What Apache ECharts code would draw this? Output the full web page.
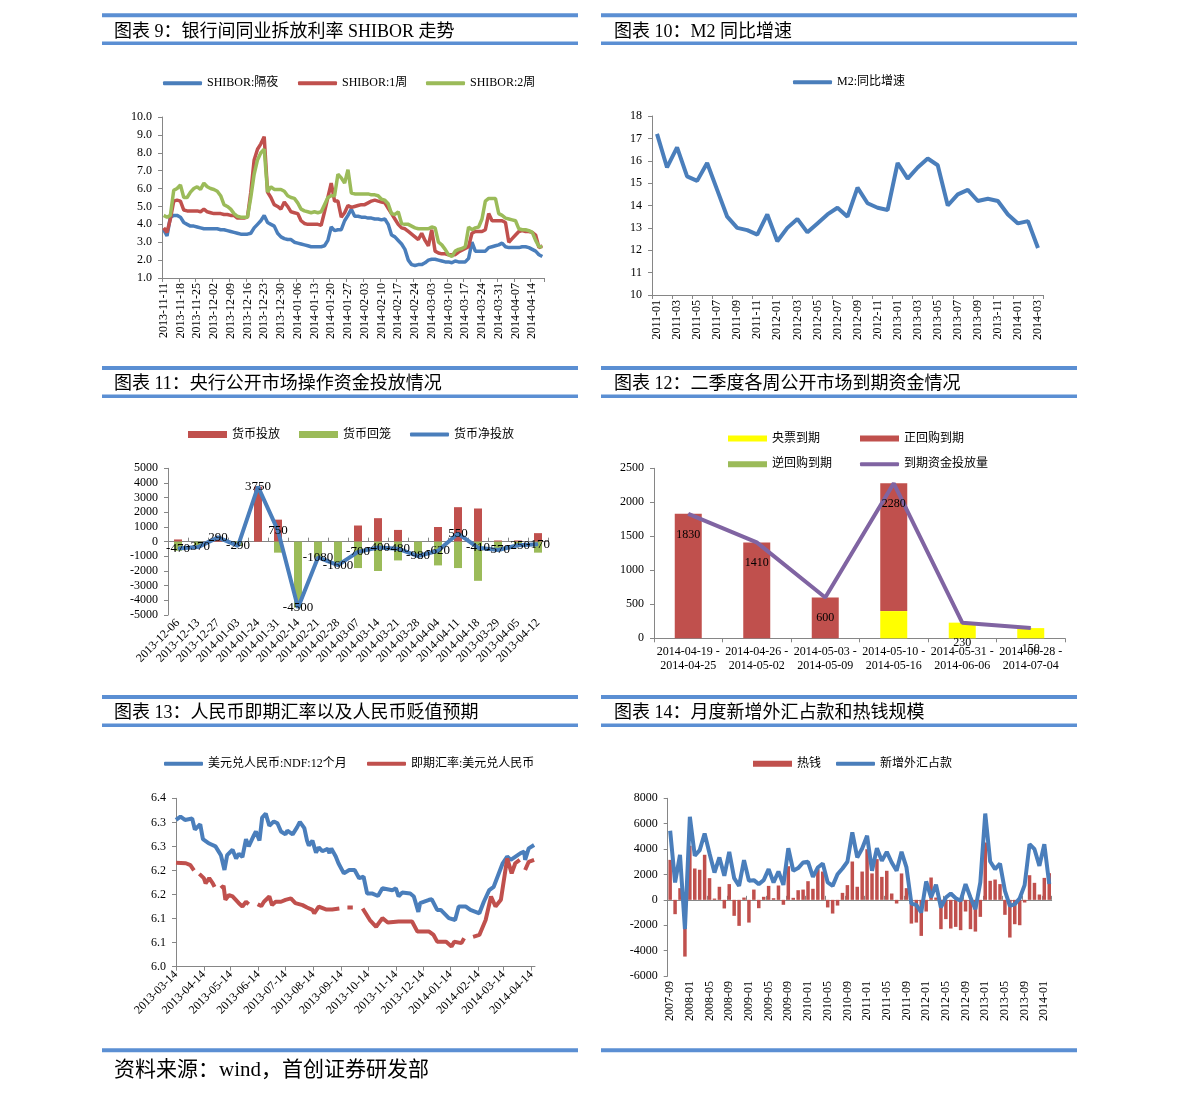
<!DOCTYPE html>
<html><head><meta charset="utf-8">
<script src="https://cdn.jsdelivr.net/npm/echarts/dist/echarts.min.js"></script>
<style>html,body{margin:0;padding:0;background:#fff}#c{width:1191px;height:1098px}</style>
</head><body><div id="c"></div>
<script>
// ---------- DATA ----------
// Panel 1: SHIBOR (weekdays from 2013-11-11)
const SHIBOR_START = '2013-11-11';
const SHIBOR_ON = [
3.7,3.35,4.4,4.5,4.5, 4.4,4.1,4.0,3.9,3.9, 3.85,3.8,3.75,3.75,3.75, 3.75,3.75,3.7,3.7,3.65,
3.6,3.55,3.5,3.45,3.45, 3.45,3.5,3.8,4.0,4.2, 4.5,4.1,4.0,3.9,3.5, 3.3,3.2,3.15,3.15,3.0,
2.95,2.9,2.85,2.8,2.75, 2.75,2.75,2.75,2.8,3.1, 3.85,3.65,3.7,3.7,4.2, 4.5,4.85,4.45,4.45,4.4,
4.4,4.35,4.35,4.3,4.3, 4.25,4.3,4.0,3.4,3.3, 3.1,2.9,2.6,2.0,1.75, 1.7,1.75,1.75,1.85,2.0,
2.05,2.05,2.0,1.95,1.9, 1.9,1.85,1.95,1.9,1.9, 1.9,2.1,3.0,2.5,2.5, 2.5,2.5,2.7,2.75,2.8,
2.85,2.95,2.75,2.7,2.7, 2.7,2.7,2.75,2.75,2.7, 2.6,2.5,2.3,2.2];
const SHIBOR_1W = [
3.8,3.55,4.3,5.3,5.35, 5.3,4.8,4.75,4.75,4.75, 4.75,4.7,4.85,4.7,4.65, 4.6,4.6,4.6,4.55,4.55,
4.5,4.5,4.35,4.35,4.35, 4.4,5.8,7.6,8.2,8.5, 8.9,5.8,5.5,5.1,5.0, 4.85,5.25,5.0,4.7,4.65,
4.6,4.2,4.05,4.0,4.0, 4.0,4.0,3.95,4.7,5.5, 6.3,5.3,5.3,4.4,4.65, 5.05,4.95,5.0,5.05,5.1,
5.1,5.2,5.3,5.35,5.3, 5.25,5.2,4.9,4.6,4.3, 4.0,3.8,3.75,3.6,3.45, 3.3,3.15,3.5,3.1,2.8,
3.7,2.5,2.4,2.35,2.35, 2.3,2.3,2.3,2.45,2.55, 2.65,2.75,3.5,3.6,3.6, 3.6,3.7,4.6,4.2,4.2,
4.2,4.2,4.1,3.0,3.2, 3.4,3.6,3.65,3.6,3.6, 3.55,3.4,2.7,2.8];
const SHIBOR_2W = [
4.5,4.4,4.5,5.9,6.0, 6.2,5.5,5.5,5.8,6.0, 6.1,5.95,6.3,6.1,6.0, 5.95,5.85,5.6,5.1,5.0,
4.85,4.6,4.45,4.4,4.4, 4.4,5.5,6.8,7.6,8.0, 8.2,5.8,6.1,5.95,5.95, 5.95,5.85,5.6,5.5,5.45,
5.2,4.85,4.75,4.7,4.65, 4.7,4.65,4.7,5.1,5.5, 5.6,5.6,6.8,6.6,6.3, 7.05,5.75,5.7,5.7,5.7,
5.7,5.7,5.65,5.65,5.6, 5.4,5.35,5.15,4.6,4.55, 4.7,4.05,4.0,4.0,3.9, 3.8,3.75,3.75,3.75,3.75,
3.85,3.8,3.0,2.85,2.6, 2.3,2.2,2.5,2.6,2.65, 2.75,3.85,3.7,3.8,3.85, 4.3,5.3,5.45,5.45,5.45,
4.6,4.5,4.35,4.3,4.25, 4.2,3.75,3.7,3.7,3.65, 3.55,3.1,2.75,2.75];

// Panel 2: M2 yoy (monthly from 2011-01)
const M2_START = [2011, 1];
const M2 = [17.2,15.7,16.6,15.3,15.1,15.9,14.7,13.5,13.0,12.9,12.7,13.6,
12.4,13.0,13.4,12.8,13.2,13.6,13.9,13.5,14.8,14.1,13.9,13.8,
15.9,15.2,15.7,16.1,15.8,14.0,14.5,14.7,14.2,14.3,14.2,13.6,
13.2,13.3,12.1];

// Panel 3: open market operations
const OMO_CATS = ['2013-12-06','2013-12-13','2013-12-27','2014-01-03','2014-01-24','2014-01-31','2014-02-14','2014-02-21','2014-02-28','2014-03-07','2014-03-14','2014-03-21','2014-03-28','2014-04-04','2014-04-11','2014-04-18','2013-03-29','2013-04-05','2013-04-12'];
const OMO_IN  = [150,0,290,0,3750,1500,0,0,0,1100,1600,800,0,1000,2350,2260,80,80,580];
const OMO_OUT = [-620,-370,0,-290,0,-750,-4500,-1080,-1600,-1800,-2000,-1280,-980,-1620,-1800,-2670,-650,-330,-750];
const OMO_NET = [-470,-370,290,-290,3750,750,-4500,-1080,-1600,-700,-400,-480,-980,-620,550,-410,-570,-250,-170];

// Panel 4: maturities in Q2
const MAT_CATS = ['2014-04-19 -\n2014-04-25','2014-04-26 -\n2014-05-02','2014-05-03 -\n2014-05-09','2014-05-10 -\n2014-05-16','2014-05-31 -\n2014-06-06','2014-06-28 -\n2014-07-04'];
const MAT_CBILL = [0,0,0,400,230,150];
const MAT_REPO  = [1830,1410,600,1880,0,0];
const MAT_RREPO = [0,0,0,0,0,0];
const MAT_TOTAL = [1830,1410,600,2280,230,150];

// Panel 5: USD/CNY
const FX_START = '2013-03-14', FX_END = '2014-04-18';
const FX_YTICKS = ['6.0','6.1','6.1','6.2','6.2','6.3','6.3','6.4'];
const NDF = [['2013-03-14',6.305],['2013-03-19',6.312],['2013-03-24',6.305],['2013-04-01',6.308],['2013-04-04',6.285],['2013-04-10',6.296],['2013-04-13',6.265],['2013-04-20',6.256],['2013-04-27',6.25],['2013-05-03',6.232],['2013-05-07',6.201],['2013-05-10',6.232],['2013-05-16',6.243],['2013-05-20',6.225],['2013-05-23',6.235],['2013-05-27',6.228],['2013-05-31',6.265],['2013-06-03',6.25],['2013-06-09',6.274],['2013-06-11',6.281],['2013-06-15',6.262],['2013-06-18',6.31],['2013-06-22',6.318],['2013-06-26',6.293],['2013-07-01',6.302],['2013-07-05',6.298],['2013-07-09',6.281],['2013-07-14',6.275],['2013-07-16',6.283],['2013-07-22',6.275],['2013-07-27',6.29],['2013-07-30',6.301],['2013-08-04',6.288],['2013-08-07',6.262],['2013-08-09',6.252],['2013-08-13',6.262],['2013-08-17',6.237],['2013-08-20',6.248],['2013-08-24',6.24],['2013-08-30',6.245],['2013-09-01',6.236],['2013-09-03',6.246],['2013-09-08',6.229],['2013-09-11',6.215],['2013-09-17',6.194],['2013-09-23',6.201],['2013-09-29',6.201],['2013-10-04',6.184],['2013-10-09',6.187],['2013-10-13',6.152],['2013-10-19',6.152],['2013-10-25',6.147],['2013-10-30',6.163],['2013-11-10',6.159],['2013-11-14',6.163],['2013-11-17',6.146],['2013-11-21',6.154],['2013-11-30',6.152],['2013-12-04',6.146],['2013-12-09',6.114],['2013-12-11',6.132],['2013-12-21',6.139],['2013-12-24',6.14],['2013-12-30',6.118],['2014-01-03',6.118],['2014-01-12',6.101],['2014-01-19',6.097],['2014-01-23',6.125],['2014-01-31',6.125],['2014-02-05',6.118],['2014-02-15',6.111],['2014-02-20',6.135],['2014-02-26',6.159],['2014-03-03',6.166],['2014-03-13',6.215],['2014-03-18',6.229],['2014-03-22',6.222],['2014-04-02',6.236],['2014-04-06',6.239],['2014-04-07',6.222],['2014-04-11',6.246],['2014-04-17',6.253]];
const SPOT = [['2013-03-14',6.216],['2013-03-25',6.215],['2013-03-30',6.211],['2013-04-03',6.2],['2013-04-05','-'],['2013-04-09',6.193],['2013-04-14',6.184],['2013-04-16',6.173],['2013-04-20',6.184],['2013-04-24',6.173],['2013-04-26',6.166],['2013-04-29','-'],['2013-05-03',6.163],['2013-05-06',6.168],['2013-05-08',6.139],['2013-05-12',6.149],['2013-05-16',6.146],['2013-05-23',6.132],['2013-05-27',6.125],['2013-05-31',6.135],['2013-06-03',6.13],['2013-06-08','-'],['2013-06-13',6.13],['2013-06-17',6.126],['2013-06-20',6.135],['2013-06-26',6.146],['2013-06-29',6.128],['2013-07-03',6.135],['2013-07-09',6.135],['2013-07-14',6.139],['2013-07-20',6.142],['2013-07-25',6.132],['2013-08-02',6.128],['2013-08-07',6.123],['2013-08-13',6.118],['2013-08-15',6.111],['2013-08-20',6.125],['2013-08-28',6.119],['2013-09-04',6.119],['2013-09-12',6.121],['2013-09-19','-'],['2013-09-21',6.123],['2013-09-27',6.123],['2013-10-01','-'],['2013-10-08',6.121],['2013-10-16',6.097],['2013-10-23',6.083],['2013-10-30',6.101],['2013-11-05',6.092],['2013-11-17',6.094],['2013-12-02',6.094],['2013-12-08',6.073],['2013-12-21',6.073],['2013-12-26',6.066],['2013-12-30',6.052],['2014-01-09',6.052],['2014-01-15',6.042],['2014-01-18',6.052],['2014-01-26',6.049],['2014-01-29',6.059],['2014-02-02','-'],['2014-02-08',6.062],['2014-02-15',6.066],['2014-02-22',6.097],['2014-02-28',6.146],['2014-03-05',6.125],['2014-03-11',6.139],['2014-03-18',6.225],['2014-03-23',6.194],['2014-03-27',6.215],['2014-04-01',6.222],['2014-04-04','-'],['2014-04-07',6.201],['2014-04-11',6.218],['2014-04-17',6.222]];

// Panel 6: hot money & FX purchases (monthly from 2007-09)
const FXP_START = [2007, 9];
const HOT = [3150,-1130,920,-4470,4260,2470,2370,3550,1710,100,
1030,-680,1240,-1260,-2050,180,-1790,810,-660,240,
1100,130,1130,-390,2650,160,760,810,1470,870,
2420,2230,-600,-1080,-450,550,1160,3020,1030,2230,
3990,2080,3210,1810,2290,500,-290,2080,920,-1870,
-1790,-2840,-920,1760,180,-2310,-1520,-2260,-2130,-2390,
-920,-2310,-2500,-1340,4520,1500,1600,1240,-1180,-2970,
-1920,-2000,-210,1940,1340,420,1730,2100];
const FXP = [5440,1370,3550,-2310,6540,3470,3920,5230,3650,2150,
3340,1890,3780,1710,1100,3130,1500,1550,1240,1550,
2420,1370,2230,1180,4070,2290,2500,2940,3000,1810,
2550,2860,1370,1100,2020,2470,3000,5310,3340,4050,
5050,2290,4070,3070,3780,2940,2290,3780,2550,-300,
-400,-1000,1450,200,1200,-600,180,500,130,-80,
1240,180,-740,1370,6800,3020,2420,2860,710,-470,
-340,130,1160,4390,3990,2680,4390,1240];

// ---------- HELPERS ----------
function pad(n){return n<10?'0'+n:''+n;}
function fmt(d){return d.getUTCFullYear()+'-'+pad(d.getUTCMonth()+1)+'-'+pad(d.getUTCDate());}
function weekdays(start,n){const o=[];let d=new Date(start+'T00:00:00Z');while(o.length<n){const w=d.getUTCDay();if(w!==0&&w!==6)o.push(fmt(d));d=new Date(d.getTime()+86400000);}return o;}
function calDays(s,e){const o=[];let d=new Date(s+'T00:00:00Z');const end=new Date(e+'T00:00:00Z');while(d<=end){o.push(fmt(d));d=new Date(d.getTime()+86400000);}return o;}
function months(ym,n){const o=[];let y=ym[0],m=ym[1];for(let i=0;i<n;i++){o.push(y+'-'+pad(m));m++;if(m>12){m=1;y++;}}return o;}

const CAT1 = weekdays(SHIBOR_START, SHIBOR_ON.length);
const CAT2 = months(M2_START, M2.length);
const CAT5 = calDays(FX_START, FX_END);
const CAT6 = months(FXP_START, HOT.length);

const FONT = "'Liberation Serif','Noto Sans CJK SC',serif";
const CBLUE='#4A7EBB', CRED='#C0504D', CGREEN='#9BBB59', CPURPLE='#8064A2', CYELLOW='#FFFF00';
const AXC='#868686';
const AXL={show:true,lineStyle:{color:AXC,width:1}};
const TK={show:true,length:4,lineStyle:{color:AXC}};
const LBL={color:'#000',fontFamily:FONT,fontSize:12};
const plain=function(v){return String(v);};

function yAx(g,min,max,iv,fmtFn){return {gridIndex:g,type:'value',min:min,max:max,interval:iv,axisLine:AXL,axisTick:TK,splitLine:{show:false},axisLabel:Object.assign({},LBL,{margin:10,formatter:fmtFn||plain})};}
function lg(name,left,cy,kind){const line=kind==='line';const h=line?4:(kind==='rect7'?7:6);
 return {left:left,top:cy-9.5,itemWidth:39,itemHeight:h,icon:line?'roundRect':'rect',data:[name],selectedMode:false,itemGap:0,textStyle:{fontFamily:FONT,fontSize:12,color:'#000'}};}
const HDR='#5B8FD3';
function bar(x,y,w,h){return {type:'rect',shape:{x:x,y:y,width:w,height:h},style:{fill:HDR},silent:true};}
function ttl(x,y,t,fs){return {type:'text',x:x,y:y,style:{text:t,fill:'#000',font:fs+'px '+FONT,verticalAlign:'middle',textVerticalAlign:'middle'},silent:true};}
function line(name,x,y,data,color,w,extra){return Object.assign({type:'line',name:name,xAxisIndex:x,yAxisIndex:y,data:data,symbol:'none',lineStyle:{color:color,width:w},itemStyle:{color:color},connectNulls:false},extra||{});}

const graphic=[
 bar(102,13.3,476,4),bar(601,13.3,476,4),bar(102,41.5,476,3.5),bar(601,41.5,476,3.5),
 bar(102,366,476,4),bar(601,366,476,4),bar(102,394.5,476,3.5),bar(601,394.5,476,3.5),
 bar(102,695,476,4),bar(601,695,476,4),bar(102,723.5,476,3.5),bar(601,723.5,476,3.5),
 bar(102,1048.3,476,4),bar(601,1048.3,476,4),
 ttl(114,32,'图表 9：银行间同业拆放利率 SHIBOR 走势',18),
 ttl(614,32,'图表 10：M2 同比增速',18),
 ttl(114,384.5,'图表 11：央行公开市场操作资金投放情况',18),
 ttl(614,384.5,'图表 12：二季度各周公开市场到期资金情况',18),
 ttl(114,713,'图表 13：人民币即期汇率以及人民币贬值预期',18),
 ttl(614,713,'图表 14：月度新增外汇占款和热钱规模',18),
 ttl(114,1070,'资料来源：wind，首创证券研发部',21)
];

const option={
 animation:false,
 textStyle:{fontFamily:FONT},
 graphic:graphic,
 legend:[
  lg('SHIBOR:隔夜',158,81.7,'line'),lg('SHIBOR:1周',293,81.7,'line'),lg('SHIBOR:2周',421,81.7,'line'),
  lg('M2:同比增速',788,80.7,'line'),
  lg('货币投放',183,433,'rect7'),lg('货币回笼',294,433,'rect7'),lg('货币净投放',405,433,'line'),
  lg('央票到期',723,437,'rect'),lg('正回购到期',855,437,'rect'),lg('逆回购到期',723,462.7,'rect'),lg('到期资金投放量',855,462.7,'line'),
  lg('美元兑人民币:NDF:12个月',159,762.3,'line'),lg('即期汇率:美元兑人民币',362,762.3,'line'),
  lg('热钱',748,762.3,'rect'),lg('新增外汇占款',831,762.3,'line')
 ],
 grid:[
  {left:162,top:117,width:382,height:161},
  {left:652,top:116,width:391,height:179},
  {left:168,top:468.3,width:380,height:146.7},
  {left:654,top:468.3,width:411,height:170},
  {left:176,top:798.3,width:359,height:168.4},
  {left:667.7,top:798.3,width:384,height:177.7}
 ],
 xAxis:[
  {gridIndex:0,type:'category',data:CAT1,boundaryGap:true,axisLine:AXL,axisTick:Object.assign({},TK,{interval:4}),axisLabel:Object.assign({},LBL,{rotate:90,interval:4,margin:5})},
  {gridIndex:1,type:'category',data:CAT2,boundaryGap:true,axisLine:AXL,axisTick:Object.assign({},TK,{interval:1}),axisLabel:Object.assign({},LBL,{rotate:90,interval:1,margin:5})},
  {gridIndex:2,type:'category',data:OMO_CATS,position:'bottom',axisLine:{show:false,onZero:false},axisTick:{show:false},axisLabel:Object.assign({},LBL,{rotate:45,interval:0,margin:6})},
  {gridIndex:2,type:'category',data:OMO_CATS,axisLine:{show:true,onZero:true,lineStyle:{color:AXC}},axisTick:Object.assign({},TK,{interval:0}),axisLabel:{show:false}},
  {gridIndex:3,type:'category',data:MAT_CATS,axisLine:AXL,axisTick:Object.assign({},TK,{interval:0}),axisLabel:Object.assign({},LBL,{interval:0,margin:7,lineHeight:14})},
  {gridIndex:4,type:'category',data:CAT5,boundaryGap:false,axisLine:AXL,
    axisTick:Object.assign({},TK,{interval:function(i,v){return v.slice(8)==='14';}}),
    axisLabel:Object.assign({},LBL,{rotate:45,margin:6,interval:function(i,v){return v.slice(8)==='14';}})},
  {gridIndex:5,type:'category',data:CAT6,position:'bottom',axisLine:{show:false,onZero:false},axisTick:{show:false},axisLabel:Object.assign({},LBL,{rotate:90,interval:3,margin:5})},
  {gridIndex:5,type:'category',data:CAT6,axisLine:{show:true,onZero:true,lineStyle:{color:AXC}},axisTick:Object.assign({},TK,{interval:3}),axisLabel:{show:false}}
 ],
 yAxis:[
  yAx(0,1,10,1,function(v){return v.toFixed(1);}),
  yAx(1,10,18,1),
  yAx(2,-5000,5000,1000),
  yAx(3,0,2500,500),
  yAx(4,6.0,6.35,0.05,function(v){return FX_YTICKS[Math.round((v-6.0)/0.05)];}),
  yAx(5,-6000,8000,2000)
 ],
 series:[
  line('SHIBOR:隔夜',0,0,SHIBOR_ON,CBLUE,3.5),
  line('SHIBOR:1周',0,0,SHIBOR_1W,CRED,3.5),
  line('SHIBOR:2周',0,0,SHIBOR_2W,CGREEN,3.5),
  line('M2:同比增速',1,1,M2,CBLUE,4),
  {type:'bar',name:'货币投放',xAxisIndex:2,yAxisIndex:2,data:OMO_IN,stack:'omo',barWidth:8,itemStyle:{color:CRED}},
  {type:'bar',name:'货币回笼',xAxisIndex:2,yAxisIndex:2,data:OMO_OUT,stack:'omo',barWidth:8,itemStyle:{color:CGREEN}},
  line('货币净投放',2,2,OMO_NET,CBLUE,4,{symbol:'circle',symbolSize:1,label:{show:true,position:'inside',color:'#000',fontFamily:FONT,fontSize:13}}),
  {type:'bar',name:'央票到期',xAxisIndex:4,yAxisIndex:3,data:MAT_CBILL,stack:'mat',barWidth:27,itemStyle:{color:CYELLOW}},
  {type:'bar',name:'正回购到期',xAxisIndex:4,yAxisIndex:3,data:MAT_REPO,stack:'mat',barWidth:27,itemStyle:{color:CRED}},
  {type:'bar',name:'逆回购到期',xAxisIndex:4,yAxisIndex:3,data:MAT_RREPO,stack:'mat',barWidth:27,itemStyle:{color:CGREEN}},
  line('到期资金投放量',4,3,MAT_TOTAL,CPURPLE,4,{symbol:'circle',symbolSize:1,label:{show:true,position:'bottom',distance:14,color:'#000',fontFamily:FONT,fontSize:12}}),
  line('美元兑人民币:NDF:12个月',5,4,NDF,CBLUE,4),
  line('即期汇率:美元兑人民币',5,4,SPOT,CRED,4),
  {type:'bar',name:'热钱',xAxisIndex:6,yAxisIndex:5,data:HOT,barWidth:3.5,itemStyle:{color:CRED}},
  line('新增外汇占款',6,5,FXP,CBLUE,4)
 ]
};
const chart=echarts.init(document.getElementById('c'),null,{renderer:'canvas'});
chart.setOption(option);
</script></body></html>
